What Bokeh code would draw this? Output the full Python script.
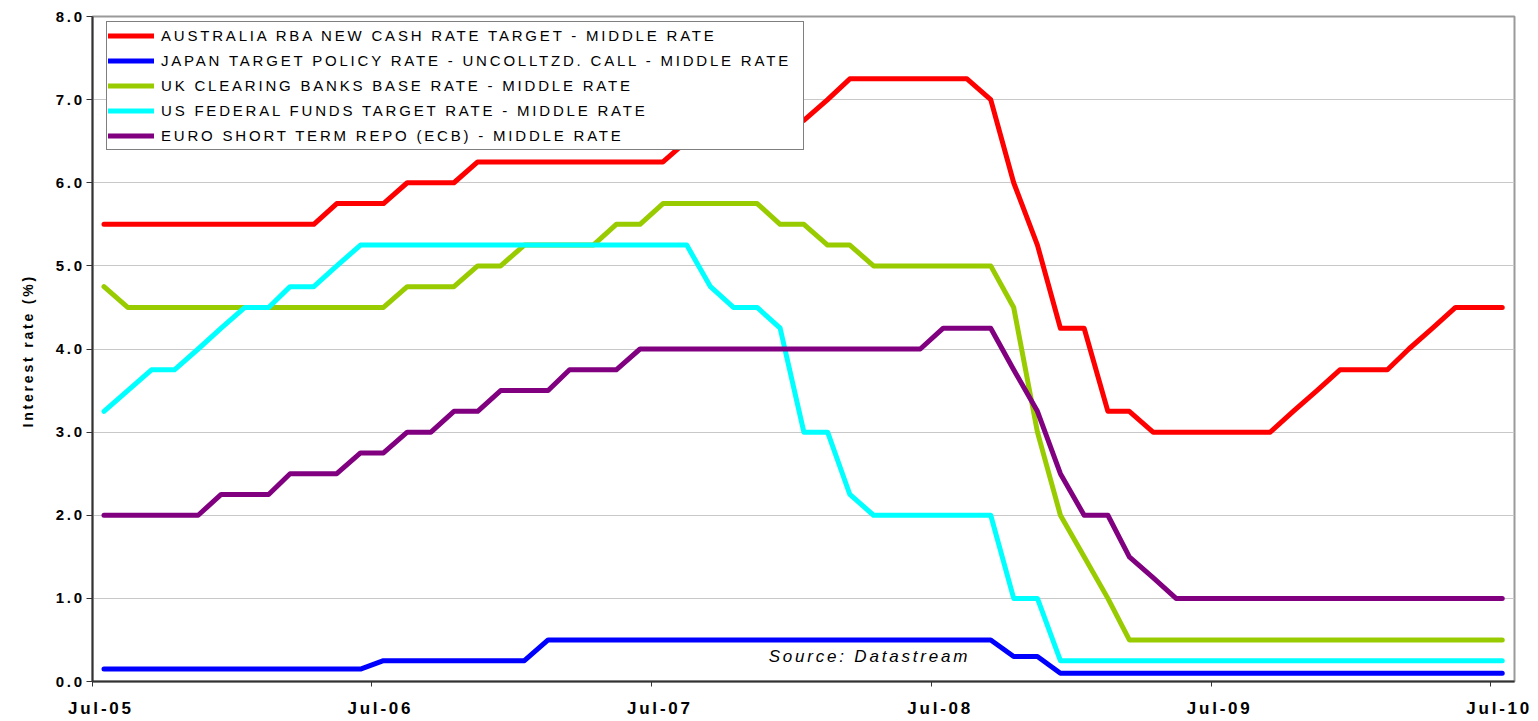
import pandas as pd
from bokeh.plotting import figure
from bokeh.models import (ColumnDataSource, Range1d, FixedTicker, DatetimeTickFormatter,
                          NumeralTickFormatter, Legend, LegendItem, Label, Title, InlineStyleSheet)
from bokeh.embed import file_html
from bokeh.resources import INLINE

# ---------------- data (monthly, Jul-05 .. Jul-10) ----------------
months = pd.date_range("2005-07-01", periods=61, freq="MS") + pd.Timedelta(days=15)

australia = [5.5, 5.5, 5.5, 5.5, 5.5, 5.5, 5.5, 5.5, 5.5, 5.5,
             5.75, 5.75, 5.75, 6.0, 6.0, 6.0,
             6.25, 6.25, 6.25, 6.25, 6.25, 6.25, 6.25, 6.25, 6.25,
             6.5, 6.5, 6.5, 6.75, 6.75, 6.75, 7.0,
             7.25, 7.25, 7.25, 7.25, 7.25, 7.25,
             7.0, 6.0, 5.25, 4.25, 4.25, 3.25, 3.25,
             3.0, 3.0, 3.0, 3.0, 3.0, 3.0,
             3.25, 3.5, 3.75, 3.75, 3.75, 4.0, 4.25, 4.5, 4.5, 4.5]

japan = [0.15, 0.15, 0.15, 0.15, 0.15, 0.15, 0.15, 0.15, 0.15, 0.15, 0.15, 0.15,
         0.25, 0.25, 0.25, 0.25, 0.25, 0.25, 0.25,
         0.5, 0.5, 0.5, 0.5, 0.5, 0.5, 0.5, 0.5, 0.5, 0.5,
         0.5, 0.5, 0.5, 0.5, 0.5, 0.5, 0.5, 0.5, 0.5, 0.5,
         0.3, 0.3,
         0.1, 0.1, 0.1, 0.1, 0.1, 0.1, 0.1, 0.1, 0.1, 0.1,
         0.1, 0.1, 0.1, 0.1, 0.1, 0.1, 0.1, 0.1, 0.1, 0.1]

uk = [4.75,
      4.5, 4.5, 4.5, 4.5, 4.5, 4.5, 4.5, 4.5, 4.5, 4.5, 4.5, 4.5,
      4.75, 4.75, 4.75, 5.0, 5.0,
      5.25, 5.25, 5.25, 5.25, 5.5, 5.5,
      5.75, 5.75, 5.75, 5.75, 5.75,
      5.5, 5.5, 5.25, 5.25,
      5.0, 5.0, 5.0, 5.0, 5.0, 5.0,
      4.5, 3.0, 2.0, 1.5, 1.0,
      0.5, 0.5, 0.5, 0.5, 0.5, 0.5, 0.5, 0.5, 0.5,
      0.5, 0.5, 0.5, 0.5, 0.5, 0.5, 0.5, 0.5]

us = [3.25, 3.5, 3.75, 3.75, 4.0, 4.25, 4.5, 4.5, 4.75, 4.75, 5.0,
      5.25, 5.25, 5.25, 5.25, 5.25, 5.25, 5.25, 5.25, 5.25, 5.25,
      5.25, 5.25, 5.25, 5.25, 5.25,
      4.75, 4.5, 4.5, 4.25, 3.0, 3.0, 2.25,
      2.0, 2.0, 2.0, 2.0, 2.0, 2.0,
      1.0, 1.0,
      0.25, 0.25, 0.25, 0.25, 0.25, 0.25, 0.25, 0.25, 0.25, 0.25,
      0.25, 0.25, 0.25, 0.25, 0.25, 0.25, 0.25, 0.25, 0.25, 0.25]

euro = [2.0, 2.0, 2.0, 2.0, 2.0, 2.25, 2.25, 2.25, 2.5, 2.5, 2.5,
        2.75, 2.75, 3.0, 3.0, 3.25, 3.25, 3.5, 3.5, 3.5,
        3.75, 3.75, 3.75,
        4.0, 4.0, 4.0, 4.0, 4.0, 4.0, 4.0, 4.0, 4.0, 4.0, 4.0, 4.0, 4.0,
        4.25, 4.25, 4.25, 3.75, 3.25, 2.5, 2.0, 2.0, 1.5, 1.25,
        1.0, 1.0, 1.0, 1.0, 1.0, 1.0, 1.0, 1.0, 1.0, 1.0,
        1.0, 1.0, 1.0, 1.0, 1.0]

series_names = ["AUSTRALIA RBA NEW CASH RATE TARGET - MIDDLE RATE",
                "JAPAN TARGET POLICY RATE - UNCOLLTZD. CALL - MIDDLE RATE",
                "UK CLEARING BANKS BASE RATE - MIDDLE RATE",
                "US FEDERAL FUNDS TARGET RATE - MIDDLE RATE",
                "EURO SHORT TERM REPO (ECB) - MIDDLE RATE"]
series_colors = ["#FF0000", "#0000FF", "#99CC00", "#00FFFF", "#800080"]

tick_dates = ["2005-07-01", "2006-07-01", "2007-07-01", "2008-07-01", "2009-07-01", "2010-07-01"]
tick_labels = ["Jul-05", "Jul-06", "Jul-07", "Jul-08", "Jul-09", "Jul-10"]

y_ticks = [0, 1, 2, 3, 4, 5, 6, 7, 8]
y_title = "Interest rate (%)"
source_note = "Source: Datastream"

# ---------------- figure ----------------
def ms(d):
    return pd.Timestamp(d).value / 1e6

p = figure(width=1538, height=721, x_axis_type="datetime",
           x_range=Range1d(start=ms("2005-07-01"), end=ms("2010-08-01")),
           y_range=Range1d(start=0, end=8),
           output_backend="svg", toolbar_location=None,
           min_border_left=92, min_border_right=24, min_border_top=16, min_border_bottom=40)

p.stylesheets = [InlineStyleSheet(css=":host { letter-spacing: 2.8px; }")]

p.outline_line_color = "#9A9A9A"
p.outline_line_width = 2
p.background_fill_color = "white"
p.border_fill_color = "white"

p.xgrid.grid_line_color = None
p.ygrid.grid_line_color = "#C8C8C8"
p.ygrid.grid_line_width = 1

source = ColumnDataSource(dict(date=months, aus=australia, jpn=japan, uk=uk, us=us, eur=euro))
cols = ["aus", "jpn", "uk", "us", "eur"]
renderers = []
for col, color in zip(cols, series_colors):
    r = p.line("date", col, source=source, line_color=color, line_width=5,
               line_join="round", line_cap="round")
    renderers.append(r)

# x axis
xa = p.xaxis[0]
tick_ms = [ms(d) for d in tick_dates]
xa.ticker = FixedTicker(ticks=tick_ms)
xa.formatter = DatetimeTickFormatter(years="%b-%y", months="%b-%y", days="%b-%y",
                                     hours="%b-%y", minutes="%b-%y")
xa.major_label_overrides = {t: l for t, l in zip(tick_ms, tick_labels)}
xa.minor_tick_line_color = None
xa.major_tick_in = 0
xa.major_tick_out = 5
xa.axis_line_color = "#333333"
xa.axis_line_width = 2
xa.major_tick_line_color = "#333333"
xa.major_label_text_font = "Liberation Sans"
xa.major_label_text_font_style = "bold"
xa.major_label_text_font_size = "17px"
xa.major_label_text_color = "black"
xa.major_label_standoff = 12

# y axis
ya = p.yaxis[0]
ya.ticker = FixedTicker(ticks=y_ticks)
ya.formatter = NumeralTickFormatter(format="0.0")
ya.minor_tick_line_color = None
ya.major_tick_in = 0
ya.major_tick_out = 6
ya.axis_line_color = "#333333"
ya.axis_line_width = 2
ya.major_tick_line_color = "#333333"
ya.major_label_text_font = "Liberation Sans"
ya.major_label_text_font_style = "bold"
ya.major_label_text_font_size = "15px"
ya.major_label_text_color = "black"
ya.major_label_standoff = 10

# y-axis title as a left-side title, anchored at its lower end
p.add_layout(Title(text=y_title, align="left", offset=254, standoff=34,
                   text_font="Liberation Sans", text_font_style="bold",
                   text_font_size="14px", text_color="black"), "left")

# legend
legend = Legend(items=[LegendItem(label=n, renderers=[r]) for n, r in zip(series_names, renderers)],
                location=(14, 531), orientation="vertical",
                label_width=641, label_height=25, glyph_width=46, glyph_height=25,
                spacing=0, padding=1, label_standoff=7, margin=0,
                border_line_color="black", border_line_width=1,
                background_fill_color="white", background_fill_alpha=1.0,
                label_text_font="Liberation Sans", label_text_font_size="15px",
                label_text_color="black")
p.add_layout(legend)

# source note
p.add_layout(Label(x=ms("2007-12-01"), y=0.3, text=source_note,
                   text_font="Liberation Sans", text_font_style="italic",
                   text_font_size="17px", text_color="black", text_baseline="alphabetic"))

open("out.html", "w").write(file_html(p, INLINE))
